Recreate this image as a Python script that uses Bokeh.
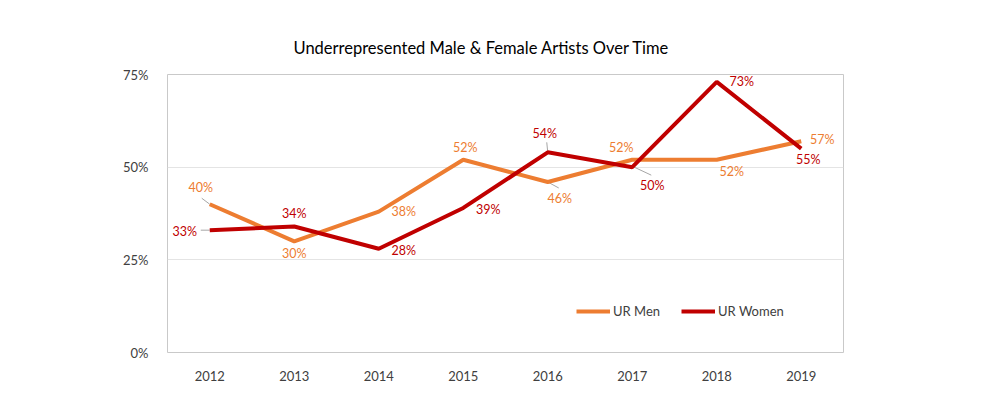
from bokeh.plotting import figure
from bokeh.models import ColumnDataSource, FixedTicker, PrintfTickFormatter, Range1d, Legend, LegendItem
from bokeh.core.properties import value
from bokeh.embed import file_html
from bokeh.resources import INLINE

# ---- data ----
years = ["2012", "2013", "2014", "2015", "2016", "2017", "2018", "2019"]
ur_men = [40, 30, 38, 52, 46, 52, 52, 57]
ur_women = [33, 34, 28, 39, 54, 50, 73, 55]
y_ticks = [0, 25, 50, 75]

# ---- label placement (pixel offsets from each point) ----
men_dx = [-9, 0, 25, 2, 12, -11, 15, 21]
men_dy = [-17, 12, 0, -12, 17, -12, 12, -2]
women_dx = [-25, 0, 25, 25, -3, 20, 25, 7]
women_dy = [1, -13, 2, 2, -19, 18, 0, 11]

ORANGE = "#ED7D31"
RED = "#C00000"
TXT = "#404040"
FONT = "Lato"

xs = list(range(len(years)))

p = figure(width=984, height=383, output_backend="svg", toolbar_location=None,
           x_range=Range1d(-0.5, len(years) - 0.5), y_range=Range1d(0, 75),
           min_border_left=167, min_border_right=141, min_border_top=74, min_border_bottom=31,
           title="Underrepresented Male & Female Artists Over Time")

p.title.text_font = FONT
p.title.text_font_size = "16.5px"
p.title.text_font_style = "normal"
p.title.text_color = "#000000"
p.title.align = "left"
p.title.offset = 126
p.title.standoff = 33

p.outline_line_color = "#c9c9c9"
p.outline_line_width = 1
p.background_fill_color = "white"
p.border_fill_color = "white"

p.xaxis.ticker = FixedTicker(ticks=xs)
p.xaxis.major_label_overrides = {i: y for i, y in enumerate(years)}
p.yaxis.ticker = FixedTicker(ticks=y_ticks)
p.yaxis.formatter = PrintfTickFormatter(format="%d%%")
for ax in (p.xaxis, p.yaxis):
    ax.axis_line_color = None
    ax.major_tick_line_color = None
    ax.minor_tick_line_color = None
    ax.major_label_text_font = FONT
    ax.major_label_text_font_size = "13px"
    ax.major_label_text_color = TXT
p.xaxis.major_label_standoff = 12
p.yaxis.major_label_standoff = 13

p.xgrid.grid_line_color = None
p.ygrid.grid_line_color = "#e4e4e4"
p.ygrid.grid_line_width = 1

# leader lines (converted from pixel offsets to data units)
px_x = 84.5
px_y = 3.707
lead_x0 = [0 + 0, 4 + 0, 0 + 0, 4 + 0, 5 + 2 / px_x]
lead_y0 = [ur_men[0], ur_men[4], ur_women[0], ur_women[4], ur_women[5]]
lead_x1 = [0 - 8 / px_x, 4 + 11 / px_x, 0 - 9 / px_x, 4 - 1 / px_x, 5 + 19 / px_x]
lead_y1 = [ur_men[0] + 6 / px_y, ur_men[4] - 6 / px_y, ur_women[0], ur_women[4] + 10 / px_y, ur_women[5] - 8 / px_y]
p.segment(x0=lead_x0, y0=lead_y0, x1=lead_x1, y1=lead_y1, line_color="#a6a6a6", line_width=1)

men_src = ColumnDataSource(dict(x=xs, y=ur_men, lab=[f"{v}%" for v in ur_men], dx=men_dx, dy=men_dy))
women_src = ColumnDataSource(dict(x=xs, y=ur_women, lab=[f"{v}%" for v in ur_women], dx=women_dx, dy=women_dy))

r_men = p.line("x", "y", source=men_src, line_color=ORANGE, line_width=4)
r_women = p.line("x", "y", source=women_src, line_color=RED, line_width=4)

p.text("x", "y", text="lab", source=men_src, x_offset="dx", y_offset="dy",
       text_font=value(FONT), text_font_size="12.5px", text_color=ORANGE,
       text_align="center", text_baseline="middle")
p.text("x", "y", text="lab", source=women_src, x_offset="dx", y_offset="dy",
       text_font=value(FONT), text_font_size="12.5px", text_color=RED,
       text_align="center", text_baseline="middle")

legend = Legend(items=[LegendItem(label="UR Men", renderers=[r_men]),
                       LegendItem(label="UR Women", renderers=[r_women])],
                orientation="horizontal", location=(405, 27))
legend.border_line_alpha = 0
legend.background_fill_alpha = 0
legend.label_text_font = FONT
legend.label_text_font_size = "13px"
legend.label_text_color = TXT
legend.glyph_width = 34
legend.label_standoff = 3
legend.spacing = 21
legend.padding = 4
p.add_layout(legend)

open("out.html", "w").write(file_html(p, INLINE))
